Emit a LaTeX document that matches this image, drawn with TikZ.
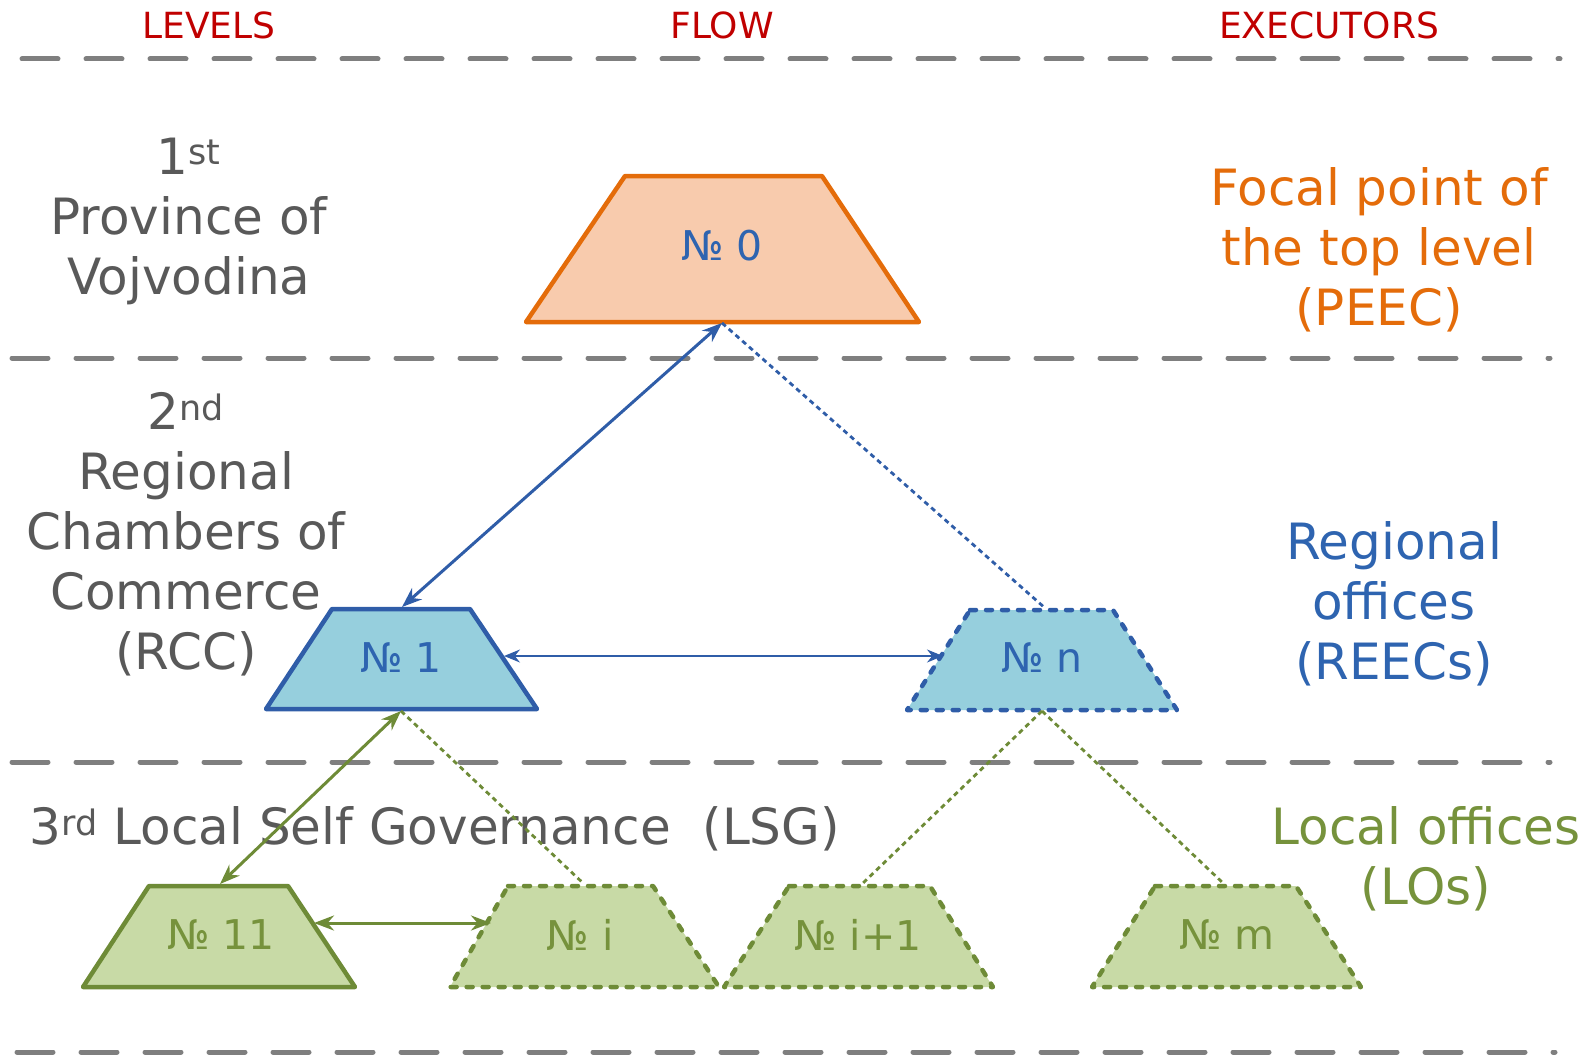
\documentclass[tikz,border=0pt]{standalone}
\usepackage{fontspec}
\setmainfont{DejaVu Sans}
\usetikzlibrary{arrows.meta,calc}
\definecolor{sepgray}{HTML}{7F7F7F}
\definecolor{txtgray}{HTML}{595959}
\definecolor{hdred}{HTML}{C00000}
\definecolor{orS}{HTML}{E46C0A}
\definecolor{orF}{HTML}{F8CBAD}
\definecolor{orT}{HTML}{E46C0A}
\definecolor{blS}{HTML}{2F5DA8}
\definecolor{blF}{HTML}{96CFDD}
\definecolor{blT}{HTML}{2E64B0}
\definecolor{grS}{HTML}{6E8B37}
\definecolor{grF}{HTML}{C8DAA6}
\definecolor{grT}{HTML}{76923C}
\begin{document}
\begin{tikzpicture}[x=1pt,y=-1pt,
  sep/.style={draw=sepgray,line width=5pt,line cap=round,dash pattern=on 36pt off 28pt},
  hdr/.style={text=hdred,font=\fontsize{36}{43}\selectfont},
  lvl/.style={text=txtgray,font=\fontsize{50}{60}\selectfont,align=center},
  trapO/.style={draw=orS,fill=orF,line width=4.5pt,line join=round},
  trapB/.style={draw=blS,fill=blF,line width=4.5pt,line join=round},
  trapBd/.style={trapB,line cap=round,dash pattern=on 6pt off 10pt},
  trapG/.style={draw=grS,fill=grF,line width=4.5pt,line join=round},
  trapGd/.style={trapG,line cap=round,dash pattern=on 6pt off 10pt},
  numB/.style={text=blT,font=\fontsize{41}{48}\selectfont},
  numG/.style={text=grT,font=\fontsize{41}{48}\selectfont},
  conB/.style={draw=blS,line width=3pt,{Stealth[length=20pt,width=15pt]}-{Stealth[length=20pt,width=15pt]}},
  conBthin/.style={draw=blS,line width=1.5pt,{Stealth[length=16pt,width=13pt]}-{Stealth[length=16pt,width=13pt]}},
  dotB/.style={draw=blS,line width=2.8pt,dash pattern=on 5pt off 4pt},
  conG/.style={draw=grS,line width=3pt,{Stealth[length=20pt,width=15pt]}-{Stealth[length=20pt,width=15pt]}},
  dotG/.style={draw=grS,line width=2.8pt,dash pattern=on 5pt off 4pt},
]
\useasboundingbox (0,0) rectangle (1593,1057);

% headers
\node[hdr] (hL) at (209,25) {LEVELS};
\node[hdr] (hF) at (722,25) {FLOW};
\node[hdr] (hE) at (1329,25) {EXECUTORS};

% separators
\draw[sep] (22,59) -- (1560,59);
\draw[sep] (12,358) -- (1550,358);
\draw[sep] (12,762) -- (1550,762);
\draw[sep] (17,1052) -- (1555,1052);

% level texts
\node[lvl] (l1) at (189,221) {1\textsuperscript{st}\\Province of\\Vojvodina};
\node[lvl] (l2) at (186,534) {2\textsuperscript{nd}\\Regional\\Chambers of\\Commerce\\(RCC)};
\node[lvl,anchor=west] (l3) at (26,829) {3\textsuperscript{rd} Local Self Governance\ \ (LSG)};

% executors
\node[lvl,text=orT] (e1) at (1379,250) {Focal point of\\the top level\\(PEEC)};
\node[lvl,text=blT] (e2) at (1394,604) {Regional\\offices\\(REECs)};
\node[lvl,text=grT] (e3) at (1426,859) {Local offices\\(LOs)};

% trapezoids
\draw[trapO] (625,176) -- (822,176) -- (919,322) -- (526,322) -- cycle;
\node[numB] (n0) at (722,246) {№ 0};
\draw[trapB] (332,609) -- (470,609) -- (537,709) -- (266,709) -- cycle;
\node[numB] (n1) at (401,658) {№ 1};
\draw[trapBd] (970,610) -- (1113,610) -- (1177,710) -- (907,710) -- cycle;
\node[numB] (nn) at (1042,658) {№ n};
\draw[trapG] (149,886) -- (288,886) -- (355,987) -- (83,987) -- cycle;
\node[numG] (n11) at (221,935) {№ 11};
\draw[trapGd] (508,886) -- (653,886) -- (719,987) -- (450,987) -- cycle;
\node[numG] (ni) at (580,935) {№ i};
\draw[trapGd] (789,886) -- (930,886) -- (993,987) -- (724,987) -- cycle;
\node[numG] (ni1) at (858,935) {№ i+1};
\draw[trapGd] (1155,886) -- (1296,886) -- (1361,987) -- (1092,987) -- cycle;
\node[numG] (nm) at (1227,935) {№ m};

% connection points
\coordinate (n0b) at (722,323);
\coordinate (n1t) at (402,607);
\coordinate (n1b) at (401,711);
\coordinate (n1r) at (504,656);
\coordinate (nnt) at (1045,608);
\coordinate (nnb) at (1042,711);
\coordinate (nnl) at (943,656);
\coordinate (n11t) at (220,884);
\coordinate (n11r) at (314,923);
\coordinate (nil) at (491,923);
\coordinate (nit) at (584,884);
\coordinate (ni1t) at (862,884);
\coordinate (nmt) at (1224,884);

% connectors
\draw[dotB] (n0b) -- (nnt);
\draw[conB] (n0b) -- (n1t);
\draw[conBthin] (n1r) -- (nnl);
\draw[dotG] (n1b) -- (nit);
\draw[dotG] (nnb) -- (ni1t);
\draw[dotG] (nnb) -- (nmt);
\draw[conG] (n1b) -- (n11t);
\draw[conG] (n11r) -- (nil);
\end{tikzpicture}
\end{document}
